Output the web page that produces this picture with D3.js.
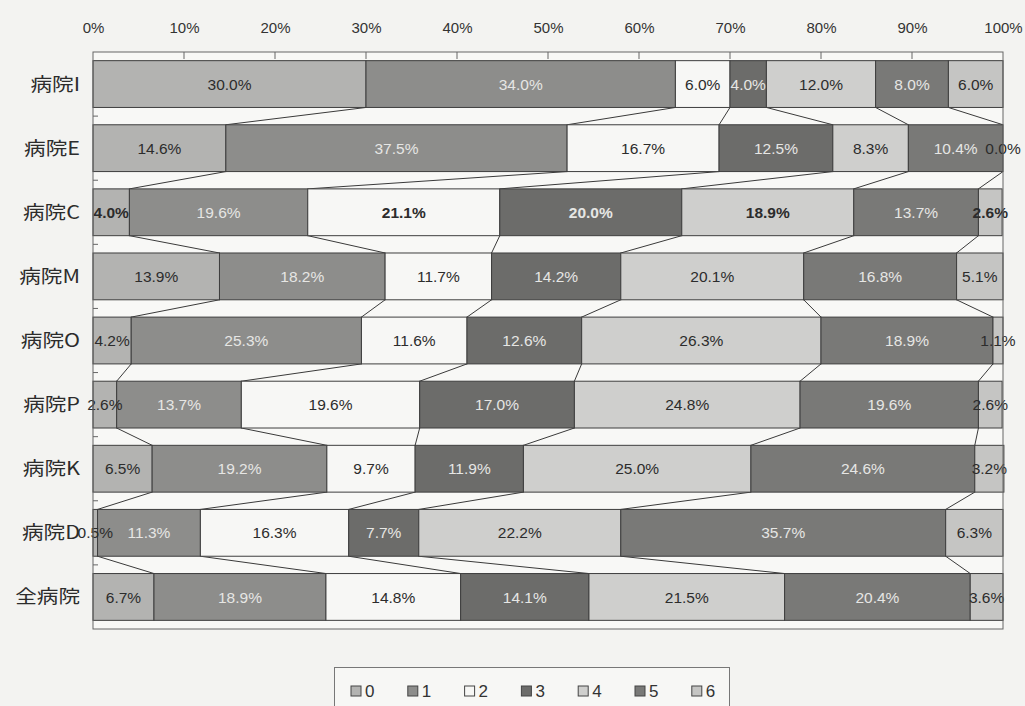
<!DOCTYPE html>
<html>
<head>
<meta charset="utf-8">
<script src="https://cdn.jsdelivr.net/npm/d3@7"></script>
<style>
  html, body { margin: 0; padding: 0; background: #f3f3f1; }
  svg { display: block; }
  text { font-family: "Liberation Sans", Arial, sans-serif; }
  .cat { font-family: "Noto Sans CJK JP", "Noto Sans CJK SC", sans-serif; }
</style>
</head>
<body>
<svg id="chart" width="1025" height="706"></svg>
<script>
// Hospitals, top to bottom
const hospitals = ["病院I", "病院E", "病院C", "病院M", "病院O", "病院P", "病院K", "病院D", "全病院"];
// Score categories 0–6
const scores = ["0", "1", "2", "3", "4", "5", "6"];
// Share (%) of each score per hospital
const share0 = [30.0, 14.6, 4.0, 13.9, 4.2, 2.6, 6.5, 0.5, 6.7];
const share1 = [34.0, 37.5, 19.6, 18.2, 25.3, 13.7, 19.2, 11.3, 18.9];
const share2 = [6.0, 16.7, 21.1, 11.7, 11.6, 19.6, 9.7, 16.3, 14.8];
const share3 = [4.0, 12.5, 20.0, 14.2, 12.6, 17.0, 11.9, 7.7, 14.1];
const share4 = [12.0, 8.3, 18.9, 20.1, 26.3, 24.8, 25.0, 22.2, 21.5];
const share5 = [8.0, 10.4, 13.7, 16.8, 18.9, 19.6, 24.6, 35.7, 20.4];
const share6 = [6.0, 0.0, 2.6, 5.1, 1.1, 2.6, 3.2, 6.3, 3.6];
// Axis tick values (%)
const tickValues = [0, 10, 20, 30, 40, 50, 60, 70, 80, 90, 100];

const shares = [share0, share1, share2, share3, share4, share5, share6];
const rows = hospitals.map((h, i) => {
  const r = { hospital: h };
  scores.forEach((s, k) => { r[s] = shares[k][i]; });
  return r;
});

const fills = ["#b3b3b1", "#8d8d8b", "#f7f7f5", "#6c6c6a", "#cfcfcd", "#797977", "#c5c5c3"];
const labelFills = ["#2c2c2c", "#e6e6e4", "#2c2c2c", "#e6e6e4", "#2c2c2c", "#e6e6e4", "#2c2c2c"];
// Labels set in bold in the 病院C row
const boldCells = new Set(["病院C|0", "病院C|2", "病院C|3", "病院C|4", "病院C|6"]);

const svg = d3.select("#chart");
const plot = { left: 93, right: 1003, top: 52, bottom: 629 };

const x = d3.scaleLinear().domain([0, 100]).range([plot.left, plot.right]);
const y = d3.scaleBand().domain(hospitals).range([plot.top, plot.bottom])
  .paddingInner(0.27).paddingOuter(0.135);

const stacked = d3.stack().keys(scores)(rows);

// Plot area background
svg.append("rect")
  .attr("x", plot.left).attr("y", plot.top)
  .attr("width", plot.right - plot.left).attr("height", plot.bottom - plot.top)
  .attr("fill", "#f8f8f6");

// Top axis labels
const axis = d3.axisTop(x).tickValues(tickValues).tickFormat(d => d + "%").tickSize(0).tickPadding(0);
const gAxis = svg.append("g").attr("transform", `translate(0, 33)`).call(axis);
gAxis.select(".domain").remove();
gAxis.selectAll("text")
  .attr("dy", 0)
  .attr("fill", "#333")
  .style("font-size", "15px")
  .style("font-family", "'Liberation Sans', Arial, sans-serif");

// Tick marks hanging from the top border
svg.append("g").selectAll("line").data(tickValues.slice(1, -1)).join("line")
  .attr("x1", d => x(d)).attr("x2", d => x(d))
  .attr("y1", plot.top).attr("y2", plot.top + 7)
  .attr("stroke", "#666").attr("stroke-width", 1);

// Small ticks on the left edge between categories
const step = y.step();
svg.append("g").selectAll("line").data(d3.range(1, hospitals.length)).join("line")
  .attr("x1", plot.left).attr("x2", plot.left + 5)
  .attr("y1", i => plot.top + y.paddingOuter() * step + i * step - (y.paddingInner() * step) / 2)
  .attr("y2", i => plot.top + y.paddingOuter() * step + i * step - (y.paddingInner() * step) / 2)
  .attr("stroke", "#666");

// Series lines joining the segment boundaries of adjacent bars
const lines = svg.append("g");
stacked.slice(0, scores.length - 1).forEach(layer => {
  for (let i = 0; i < hospitals.length - 1; i++) {
    lines.append("line")
      .attr("x1", x(layer[i][1])).attr("y1", y(hospitals[i]) + y.bandwidth())
      .attr("x2", x(layer[i + 1][1])).attr("y2", y(hospitals[i + 1]))
      .attr("stroke", "#3a3a3a").attr("stroke-width", 1);
  }
});

// Bars
stacked.forEach((layer, k) => {
  svg.append("g").selectAll("rect").data(layer).join("rect")
    .attr("x", d => x(d[0]))
    .attr("y", d => y(d.data.hospital))
    .attr("width", d => Math.max(0, x(d[1]) - x(d[0])))
    .attr("height", y.bandwidth())
    .attr("fill", fills[k])
    .attr("stroke", "#3e3e3e").attr("stroke-width", 1);
});

// Value labels
stacked.forEach((layer, k) => {
  svg.append("g").selectAll("text").data(layer).join("text")
    .attr("x", d => x((d[0] + d[1]) / 2))
    .attr("y", d => y(d.data.hospital) + y.bandwidth() / 2)
    .attr("dy", "0.36em")
    .attr("text-anchor", "middle")
    .attr("fill", labelFills[k])
    .style("font-size", "15.5px")
    .style("font-weight", d => boldCells.has(d.data.hospital + "|" + k) ? "bold" : "normal")
    .text(d => d.data[scores[k]].toFixed(1) + "%");
});

// Plot border
svg.append("rect")
  .attr("x", plot.left).attr("y", plot.top)
  .attr("width", plot.right - plot.left).attr("height", plot.bottom - plot.top)
  .attr("fill", "none").attr("stroke", "#666").attr("stroke-width", 1);

// Category labels
svg.append("g").selectAll("text").data(hospitals).join("text")
  .attr("class", "cat")
  .attr("transform", d => `translate(80, ${y(d) + y.bandwidth() / 2}) scale(1.2, 1)`)
  .attr("dy", "0.36em")
  .attr("text-anchor", "end")
  .attr("fill", "#2c2c2c")
  .style("font-size", "18px")
  .text(d => d);

// Legend
const legend = svg.append("g");
legend.append("rect")
  .attr("x", 334.5).attr("y", 667.5).attr("width", 395).attr("height", 48)
  .attr("fill", "#f7f7f5").attr("stroke", "#777");
const item = legend.selectAll("g.item").data(scores).join("g")
  .attr("class", "item")
  .attr("transform", (d, k) => `translate(${351 + k * 56.8}, 686)`);
item.append("rect")
  .attr("width", 10).attr("height", 10)
  .attr("fill", (d, k) => fills[k]).attr("stroke", "#444");
item.append("text")
  .attr("x", 14).attr("y", 5).attr("dy", "0.36em")
  .attr("fill", "#333")
  .style("font-size", "17px")
  .text(d => d);
</script>
</body>
</html>
